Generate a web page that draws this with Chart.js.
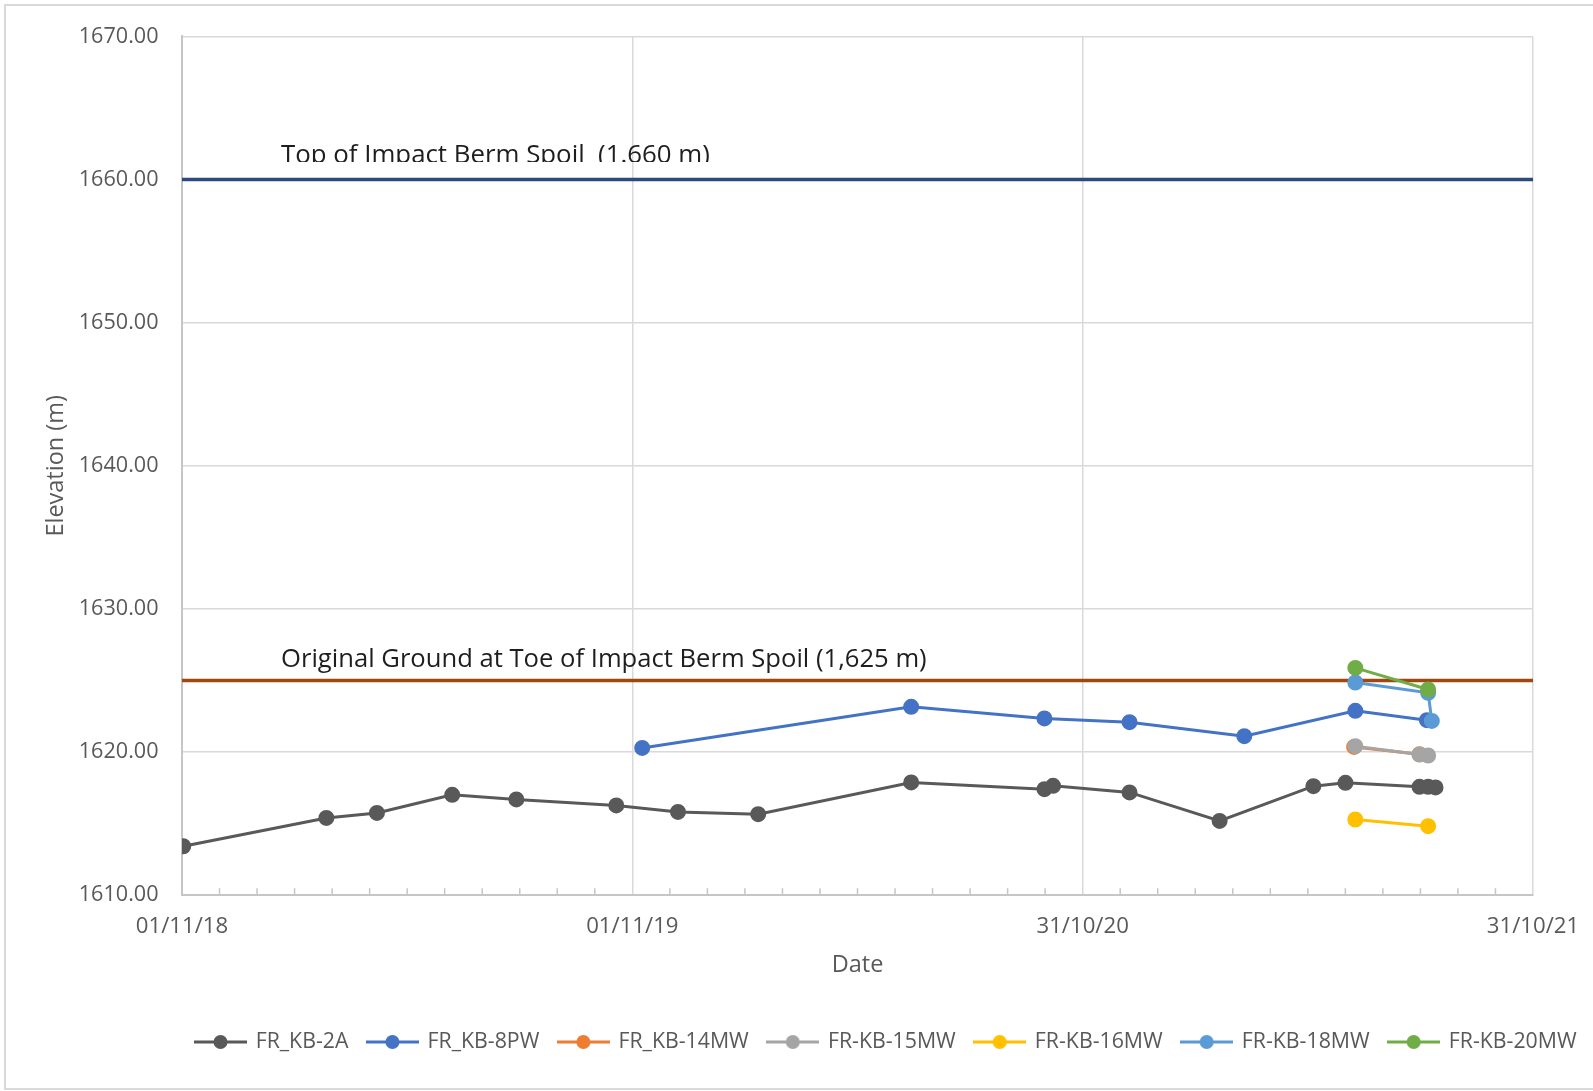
<!DOCTYPE html>
<html>
<head>
<meta charset="utf-8">
<script src="https://cdn.jsdelivr.net/npm/chart.js@4.4.1/dist/chart.umd.min.js"></script>
<style>
    html, body { margin: 0; padding: 0; background: #fff; }
    #wrap { width: 1593px; height: 1091px; }
</style>
</head>
<body>
<div id="wrap"><canvas id="elevationChart" width="1593" height="1091"></canvas></div>
<script>
// Series
const seriesNames = ['FR_KB-2A', 'FR_KB-8PW', 'FR_KB-14MW', 'FR-KB-15MW', 'FR-KB-16MW', 'FR-KB-18MW', 'FR-KB-20MW'];
const seriesColors = ['#595959', '#4472C4', '#ED7D31', '#A5A5A5', '#FFC000', '#5B9BD5', '#70AD47'];

const kb2aDates = ['2018-11-02', '2019-02-26', '2019-04-08', '2019-06-08', '2019-07-30', '2019-10-19',
    '2019-12-08', '2020-02-11', '2020-06-14', '2020-09-30', '2020-10-07', '2020-12-08',
    '2021-02-19', '2021-05-06', '2021-06-01', '2021-07-31', '2021-08-07', '2021-08-13'];
const kb2aLevels = [1613.42, 1615.40, 1615.75, 1617.01, 1616.69, 1616.27,
    1615.82, 1615.66, 1617.88, 1617.41, 1617.64, 1617.18,
    1615.19, 1617.62, 1617.85, 1617.57, 1617.57, 1617.53];

const kb8pwDates = ['2019-11-09', '2020-06-14', '2020-09-30', '2020-12-08', '2021-03-11', '2021-06-09', '2021-08-06'];
const kb8pwLevels = [1620.29, 1623.16, 1622.35, 1622.09, 1621.11, 1622.88, 1622.23];

const kb14mwDates = ['2021-06-08', '2021-07-31'];
const kb14mwLevels = [1620.36, 1619.85];

const kb15mwDates = ['2021-06-09', '2021-07-31', '2021-08-07'];
const kb15mwLevels = [1620.41, 1619.83, 1619.76];

const kb16mwDates = ['2021-06-09', '2021-08-07'];
const kb16mwLevels = [1615.29, 1614.82];

const kb18mwDates = ['2021-06-09', '2021-08-07', '2021-08-10'];
const kb18mwLevels = [1624.86, 1624.14, 1622.18];

const kb20mwDates = ['2021-06-09', '2021-08-07'];
const kb20mwLevels = [1625.88, 1624.37];

// Reference levels
const topBermLevel = 1660;
const toeGroundLevel = 1625;
const topBermLabel = 'Top of Impact Berm Spoil  (1.660 m)';
const toeGroundLabel = 'Original Ground at Toe of Impact Berm Spoil (1,625 m)';

// Axes
const xMajorDates = ['2018-11-01', '2019-11-01', '2020-10-31', '2021-10-31'];
const xTickLabels = ['01/11/18', '01/11/19', '31/10/20', '31/10/21'];
const yMin = 1610;
const yMax = 1670;
const yStep = 10;

const FONT = '"Open Sans", sans-serif';
const TEXT_GREY = '#595959';
const GRID_GREY = '#d9d9d9';
const AXIS_GREY = '#c6c6c6';

function dayOf(iso) {
    const [y, m, d] = iso.split('-').map(Number);
    const [y0, m0, d0] = xMajorDates[0].split('-').map(Number);
    return (Date.UTC(y, m - 1, d) - Date.UTC(y0, m0 - 1, d0)) / 86400000;
}

function toPoints(dates, levels) {
    return dates.map((d, i) => ({ x: dayOf(d), y: levels[i] }));
}

// 12 minor steps between consecutive major dates
function buildXTicks() {
    const ticks = [];
    const majors = xMajorDates.map(dayOf);
    for (let k = 0; k < majors.length - 1; k++) {
        const span = majors[k + 1] - majors[k];
        for (let j = 0; j < 12; j++) {
            ticks.push({ value: majors[k] + j * span / 12, major: j === 0 });
        }
    }
    ticks.push({ value: majors[majors.length - 1], major: true });
    return ticks;
}

function makeLegendMarker(color) {
    const c = document.createElement('canvas');
    c.width = 53;
    c.height = 16;
    const g = c.getContext('2d');
    g.strokeStyle = color;
    g.lineWidth = 3;
    g.beginPath();
    g.moveTo(0, 8);
    g.lineTo(53, 8);
    g.stroke();
    g.fillStyle = color;
    g.beginPath();
    g.arc(26.5, 8, 7, 0, Math.PI * 2);
    g.fill();
    return c;
}

const seriesData = [
    toPoints(kb2aDates, kb2aLevels),
    toPoints(kb8pwDates, kb8pwLevels),
    toPoints(kb14mwDates, kb14mwLevels),
    toPoints(kb15mwDates, kb15mwLevels),
    toPoints(kb16mwDates, kb16mwLevels),
    toPoints(kb18mwDates, kb18mwLevels),
    toPoints(kb20mwDates, kb20mwLevels)
];

const xStart = dayOf(xMajorDates[0]);
const xEnd = dayOf(xMajorDates[xMajorDates.length - 1]);

const datasets = seriesData.map((pts, i) => ({
    label: seriesNames[i],
    data: pts,
    borderColor: seriesColors[i],
    backgroundColor: seriesColors[i],
    pointBackgroundColor: seriesColors[i],
    pointBorderColor: seriesColors[i],
    borderWidth: 3,
    pointRadius: 6.5,
    pointHoverRadius: 6.5,
    tension: 0,
    order: seriesNames.length - i
}));

datasets.push({
    label: 'topBerm',
    data: [{ x: xStart, y: topBermLevel }, { x: xEnd, y: topBermLevel }],
    borderColor: '#2E4A7D',
    borderWidth: 3.5,
    pointRadius: 0,
    order: 50
});
datasets.push({
    label: 'toeGround',
    data: [{ x: xStart, y: toeGroundLevel }, { x: xEnd, y: toeGroundLevel }],
    borderColor: '#9E480E',
    borderWidth: 3.5,
    pointRadius: 0,
    order: 51
});

const chartFrame = {
    id: 'chartFrame',
    beforeDraw(chart) {
        const ctx = chart.ctx;
        ctx.save();
        ctx.fillStyle = '#fff';
        ctx.fillRect(0, 0, chart.width, chart.height);
        ctx.strokeStyle = GRID_GREY;
        ctx.lineWidth = 2;
        ctx.beginPath();
        ctx.moveTo(chart.width, 5);
        ctx.lineTo(5, 5);
        ctx.lineTo(5, 1089);
        ctx.lineTo(chart.width, 1089);
        ctx.stroke();
        ctx.restore();
    }
};

// Minor tick marks drawn inside the plot, on the date axis
const minorTicks = {
    id: 'minorTicks',
    afterDraw(chart) {
        const x = chart.scales.x;
        const bottom = chart.chartArea.bottom;
        const ctx = chart.ctx;
        ctx.save();
        ctx.strokeStyle = AXIS_GREY;
        ctx.lineWidth = 1.5;
        x.ticks.forEach(t => {
            if (t.major) return;
            const px = x.getPixelForValue(t.value);
            ctx.beginPath();
            ctx.moveTo(px, bottom);
            ctx.lineTo(px, bottom - 7);
            ctx.stroke();
        });
        ctx.restore();
    }
};

const levelLabels = {
    id: 'levelLabels',
    afterDatasetsDraw(chart) {
        const ctx = chart.ctx;
        const xs = chart.scales.x;
        const ys = chart.scales.y;
        const left = xs.getPixelForValue(xStart) + 99;
        const draw = (text, level, width, gap, clipBottom) => {
            ctx.save();
            ctx.font = '100px ' + FONT;
            const size = 100 * width / ctx.measureText(text).width;
            ctx.font = size.toFixed(2) + 'px ' + FONT;
            ctx.fillStyle = '#1e1e1e';
            ctx.textBaseline = 'alphabetic';
            const base = ys.getPixelForValue(level) - gap;
            if (clipBottom) {
                ctx.beginPath();
                ctx.rect(0, 0, chart.width, base - 1);
                ctx.clip();
            }
            ctx.fillText(text, left, base);
            ctx.restore();
        };
        draw(topBermLabel, topBermLevel, 429, 16.5, true);
        draw(toeGroundLabel, toeGroundLevel, 646, 14, false);
    }
};

const legendPlacement = {
    id: 'legendPlacement',
    afterLayout(chart) {
        const lg = chart.legend;
        const pad = lg.options.labels.padding;
        lg.left = 196 - pad;
        lg.right = chart.width + 200;
        lg.top = 1042 - pad - lg.options.labels.font.size / 2;
    }
};

const ctx = document.getElementById('elevationChart').getContext('2d');
const elevationChart = new Chart(ctx, {
    type: 'line',
    data: { datasets: datasets },
    options: {
        responsive: false,
        animation: false,
        events: [],
        layout: {
            padding: { left: 6, top: 35, right: 60, bottom: 6 }
        },
        scales: {
            x: {
                type: 'linear',
                min: xStart,
                max: xEnd,
                afterBuildTicks(scale) {
                    scale.ticks = buildXTicks();
                },
                afterFit(scale) {
                    scale.height = 139;
                    scale.paddingLeft = 0;
                    scale.paddingRight = 0;
                },
                ticks: {
                    autoSkip: false,
                    maxRotation: 0,
                    padding: 18.5,
                    color: TEXT_GREY,
                    font: { family: FONT, size: 22.2 },
                    callback(value, index) {
                        return index % 12 === 0 ? xTickLabels[index / 12] : '';
                    }
                },
                grid: {
                    drawTicks: false,
                    lineWidth: 1.5,
                    color: (c) => (c.index % 12 === 0 ? GRID_GREY : 'rgba(0,0,0,0)')
                },
                border: { color: AXIS_GREY, width: 2 },
                title: {
                    display: true,
                    text: 'Date',
                    color: TEXT_GREY,
                    font: { family: FONT, size: 23.5 },
                    padding: { top: 0, bottom: 55 }
                }
            },
            y: {
                min: yMin,
                max: yMax,
                afterFit(scale) {
                    scale.width = 176;
                },
                ticks: {
                    stepSize: yStep,
                    padding: 23.5,
                    color: TEXT_GREY,
                    font: { family: FONT, size: 21.6 },
                    callback: (v) => v.toFixed(2)
                },
                grid: {
                    drawTicks: false,
                    lineWidth: 1.5,
                    color: GRID_GREY
                },
                border: { color: AXIS_GREY, width: 2 },
                title: {
                    display: true,
                    text: 'Elevation (m)',
                    color: TEXT_GREY,
                    font: { family: FONT, size: 23.5 },
                    padding: { top: 36, bottom: 0 }
                }
            }
        },
        plugins: {
            tooltip: { enabled: false },
            legend: {
                position: 'bottom',
                align: 'start',
                labels: {
                    usePointStyle: true,
                    pointStyleWidth: 49,
                    padding: 19.5,
                    color: TEXT_GREY,
                    font: { family: FONT, size: 21.3 },
                    generateLabels() {
                        return seriesNames.map((name, i) => ({
                            text: name,
                            fillStyle: seriesColors[i],
                            strokeStyle: seriesColors[i],
                            lineWidth: 0,
                            pointStyle: makeLegendMarker(seriesColors[i]),
                            hidden: false,
                            datasetIndex: i,
                            fontColor: TEXT_GREY
                        }));
                    }
                }
            }
        }
    },
    plugins: [chartFrame, minorTicks, levelLabels, legendPlacement]
});
</script>
</body>
</html>
